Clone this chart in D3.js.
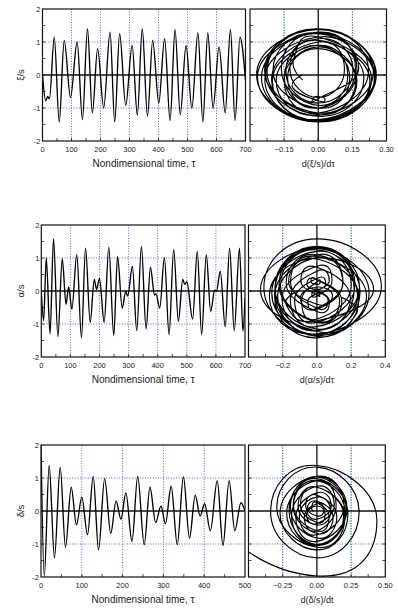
<!DOCTYPE html>
<html><head><meta charset="utf-8">
<script src="https://cdn.jsdelivr.net/npm/d3@7"></script>
<style>
body{margin:0;background:#fff}
svg{display:block}
text{font-family:"Liberation Sans",Arial,sans-serif;fill:#222}
</style>
</head><body>
<svg id="c" width="398" height="611"></svg>
<script>
// ---------------- data (turning points of each record) ----------------
const xiTime  = [0,11,18,24,40.5,57.7,74.8,96.6,119.5,137.8,155,172,190,211,233,249,266,287,309,327,344,362,380,401,421,440,457,475,495,515,536,553,570,588,609,630,648,664,681,700];
const xiValue = [0,-0.78,-0.65,-0.72,1.15,-1.42,1.05,-0.68,1.0,-1.35,1.4,-1.15,0.8,-1.0,1.3,-1.42,1.25,-0.92,0.9,-1.22,1.4,-1.25,1.05,-0.85,1.1,-1.38,1.38,-1.2,0.9,-1.0,1.28,-1.42,1.28,-1.0,0.85,-1.15,1.38,-1.38,1.15,-0.15];

const alphaTime  = [0,8,17,30,42,57,72,85,94,105,122,138,152,168,182,190,200,216,232,249,262,278,290,297,313,328,344,360,375,389,394,407,423,439,455,471,486,493,500,520,536,551,567,582,596,602,615,632,647,663,681,693,700];
const alphaValue = [0,-0.9,1.0,-1.3,1.58,-1.38,0.97,-0.4,0.12,-0.55,1.1,-1.42,1.3,-0.95,0.35,0.05,0.38,-0.95,1.32,-1.35,1.05,-0.52,-0.02,-0.15,0.75,-1.2,1.35,-1.15,0.72,-0.12,-0.08,-0.52,1.02,-1.32,1.25,-0.92,0.35,0.2,0.28,-0.85,1.2,-1.32,1.1,-0.62,0.03,0.0,0.6,-1.08,1.3,-1.2,1.3,-1.22,-0.2];

const deltaTime  = [0,8,20,33,47,60,74,87,100,114,128,141,156,171,184,196,208,223,237,253,267,281,294,305,319,334,349,364,378,390,401,415,432,446,461,475,490,500];
const deltaValue = [2,-1.97,1.38,-1.42,1.33,-1.1,0.72,-0.42,0.42,-0.72,1.05,-1.18,0.98,-0.68,0.3,-0.25,0.55,-0.92,1.05,-1.02,0.72,-0.35,0.15,-0.38,0.75,-1.02,1.03,-0.82,0.48,-0.15,0.22,-0.6,0.92,-1.05,0.92,-0.6,0.25,0.0];

const valueTicks   = [-2,-1,0,1,2];
const timeTicks700 = [0,100,200,300,400,500,600,700];
const timeTicks500 = [0,100,200,300,400,500];
const xiRateTicks    = [-0.15,0.00,0.15,0.30];
const alphaRateTicks = [-0.2,0.0,0.2,0.4];
const deltaRateTicks = [-0.25,0.00,0.25,0.50];
const yLabels    = ["ξ/s","α/s","δ/s"];
const timeLabel  = "Nondimensional time, τ";
const rateLabels = ["d(ξ/s)/dτ","d(α/s)/dτ","d(δ/s)/dt"];

// ---------------- layout ----------------
const svg = d3.select("#c");
const PH = 132;
const rows = [
  {top:9,   lx0:42.5, lx1:245.5, rx0:250,   rx1:386.5, t:xiTime,    v:xiValue,    tTicks:timeTicks700, tMinor:50,
   rTicks:xiRateTicks,    rMax:0.3, rMinor:0.075, fmt:d3.format(".2f"), ylab:yLabels[0], rlab:rateLabels[0]},
  {top:225, lx0:41.3, lx1:245,   rx0:248.5, rx1:385.3, t:alphaTime, v:alphaValue, tTicks:timeTicks700, tMinor:50,
   rTicks:alphaRateTicks, rMax:0.4, rMinor:0.1,   fmt:d3.format(".1f"), ylab:yLabels[1], rlab:rateLabels[1]},
  {top:445, lx0:41,   lx1:245,   rx0:248.5, rx1:385.3, t:deltaTime, v:deltaValue, tTicks:timeTicks500, tMinor:50,
   rTicks:deltaRateTicks, rMax:0.5, rMinor:0.125, fmt:d3.format(".2f"), ylab:yLabels[2], rlab:rateLabels[2]}
];

const GRID = "#2f5fc8";

// phase-plane trajectory derived from the record: turning points sit on the rate = 0 axis,
// the steepest rate of each swing sits half way between them
function phasePoints(t, v){
  const n = t.length, pts = [];
  for (let i = 0; i < n; i++){
    let d = 0;
    if (i === 0) d = (v[1]-v[0])/(t[1]-t[0]);
    if (i === n-1) d = (v[n-1]-v[n-2])/(t[n-1]-t[n-2]);
    pts.push([d, v[i]]);
    if (i < n-1) pts.push([Math.PI/2*(v[i+1]-v[i])/(t[i+1]-t[i]), (v[i]+v[i+1])/2]);
  }
  return pts;
}

function range(a, b, s){ const out=[]; for(let x=a; x<=b+1e-9; x+=s) out.push(+x.toFixed(4)); return out; }

rows.forEach((r, idx) => {
  const bottom = r.top + PH;
  const x  = d3.scaleLinear([0, d3.max(r.tTicks)], [r.lx0, r.lx1]);
  const y  = d3.scaleLinear([-2, 2], [bottom, r.top]);
  const px = d3.scaleLinear([-r.rMax, r.rMax], [r.rx0, r.rx1]);

  const g = svg.append("g");

  g.append("clipPath").attr("id","cl"+idx).append("rect")
    .attr("x",r.lx0).attr("y",r.top).attr("width",r.lx1-r.lx0).attr("height",PH);
  g.append("clipPath").attr("id","cr"+idx).append("rect")
    .attr("x",r.rx0).attr("y",r.top).attr("width",r.rx1-r.rx0).attr("height",PH);

  const tMax = d3.max(r.tTicks);
  const dash = sel => sel.attr("stroke",GRID).attr("stroke-width",0.9).attr("stroke-dasharray","1,1.6");
  // grid, left panel
  g.selectAll(null).data(r.tTicks.filter(d => d>0 && d<tMax)).join("line")
    .attr("x1",d=>x(d)).attr("x2",d=>x(d)).attr("y1",r.top).attr("y2",bottom).call(dash);
  g.selectAll(null).data(valueTicks.filter(d => Math.abs(d)===1)).join("line")
    .attr("x1",r.lx0).attr("x2",r.lx1).attr("y1",d=>y(d)).attr("y2",d=>y(d)).call(dash);
  // grid, right panel
  const rg = r.rTicks.filter(d => d!==0 && Math.abs(d) < r.rMax-1e-9);
  g.selectAll(null).data(rg.concat(rg.map(d=>-d))).join("line")
    .attr("x1",d=>px(d)).attr("x2",d=>px(d)).attr("y1",r.top).attr("y2",bottom).call(dash);
  g.selectAll(null).data(valueTicks.filter(d => Math.abs(d)===1)).join("line")
    .attr("x1",r.rx0).attr("x2",r.rx1).attr("y1",d=>y(d)).attr("y2",d=>y(d)).call(dash);

  // zero lines
  g.append("line").attr("x1",r.lx0).attr("x2",r.lx1).attr("y1",y(0)).attr("y2",y(0))
    .attr("stroke","#111").attr("stroke-width",1.3);
  g.append("line").attr("x1",r.rx0).attr("x2",r.rx1).attr("y1",y(0)).attr("y2",y(0))
    .attr("stroke","#111").attr("stroke-width",1.3);
  g.append("line").attr("x1",px(0)).attr("x2",px(0)).attr("y1",r.top).attr("y2",bottom)
    .attr("stroke","#111").attr("stroke-width",1.3);

  // minor ticks (inside)
  const tk = 3;
  const yMinor = range(-1.5, 1.5, 0.5);
  const tick = sel => sel.attr("stroke","#222").attr("stroke-width",0.8);
  g.selectAll(null).data(yMinor).join("line")
    .attr("x1",r.lx0).attr("x2",r.lx0+tk).attr("y1",d=>y(d)).attr("y2",d=>y(d)).call(tick);
  g.selectAll(null).data(yMinor).join("line")
    .attr("x1",r.rx0).attr("x2",r.rx0+tk).attr("y1",d=>y(d)).attr("y2",d=>y(d)).call(tick);
  g.selectAll(null).data(yMinor).join("line")
    .attr("x1",r.rx1-tk).attr("x2",r.rx1).attr("y1",d=>y(d)).attr("y2",d=>y(d)).call(tick);
  g.selectAll(null).data(range(r.tMinor, tMax - r.tMinor, r.tMinor)).join("line")
    .attr("x1",d=>x(d)).attr("x2",d=>x(d)).attr("y1",bottom-tk).attr("y2",bottom).call(tick);
  g.selectAll(null).data(range(-r.rMax + r.rMinor, r.rMax - r.rMinor, r.rMinor)).join("line")
    .attr("x1",d=>px(d)).attr("x2",d=>px(d)).attr("y1",bottom-tk).attr("y2",bottom).call(tick);

  // data lines
  g.append("path").attr("clip-path",`url(#cl${idx})`)
    .datum(r.t.map((t,i)=>[t, r.v[i]]))
    .attr("d", d3.line().x(d=>x(d[0])).y(d=>y(d[1])).curve(d3.curveMonotoneX))
    .attr("fill","none").attr("stroke","#000").attr("stroke-width",1.35).attr("stroke-linejoin","round");
  g.append("path").attr("clip-path",`url(#cr${idx})`)
    .datum(phasePoints(r.t, r.v))
    .attr("d", d3.line().x(d=>px(d[0])).y(d=>y(d[1])).curve(d3.curveCardinal.tension(-0.6)))
    .attr("fill","none").attr("stroke","#000").attr("stroke-width",1.15).attr("stroke-linejoin","round");

  // frames
  g.append("rect").attr("x",r.lx0).attr("y",r.top).attr("width",r.lx1-r.lx0).attr("height",PH)
    .attr("fill","none").attr("stroke","#111").attr("stroke-width",1.2);
  g.append("rect").attr("x",r.rx0).attr("y",r.top).attr("width",r.rx1-r.rx0).attr("height",PH)
    .attr("fill","none").attr("stroke","#111").attr("stroke-width",1.2);

  // tick labels
  g.selectAll(null).data(valueTicks).join("text")
    .attr("x",r.lx0-2).attr("y",d=>y(d)).attr("dy","0.35em")
    .attr("text-anchor","end").attr("font-size",7.5).text(d=>d);
  g.selectAll(null).data(r.tTicks).join("text")
    .attr("x",d=>x(d)).attr("y",bottom+10.5)
    .attr("text-anchor","middle").attr("font-size",7.5).text(d=>d);
  g.selectAll(null).data(r.rTicks).join("text")
    .attr("x",d=>px(d)).attr("y",bottom+10.5)
    .attr("text-anchor","middle").attr("font-size",7.5).text(d=>r.fmt(d));

  // axis titles
  g.append("text").attr("x",(r.lx0+r.lx1)/2).attr("y",bottom+25.5)
    .attr("text-anchor","middle").attr("font-size",10).text(timeLabel);
  g.append("text").attr("x",(r.rx0+r.rx1)/2).attr("y",bottom+25.5)
    .attr("text-anchor","middle").attr("font-size",9).text(r.rlab);
  g.append("text").attr("transform",`translate(21,${y(0)}) rotate(-90)`)
    .attr("dy","0.35em").attr("text-anchor","middle").attr("font-size",9.5).text(r.ylab);
});
</script>
</body></html>
